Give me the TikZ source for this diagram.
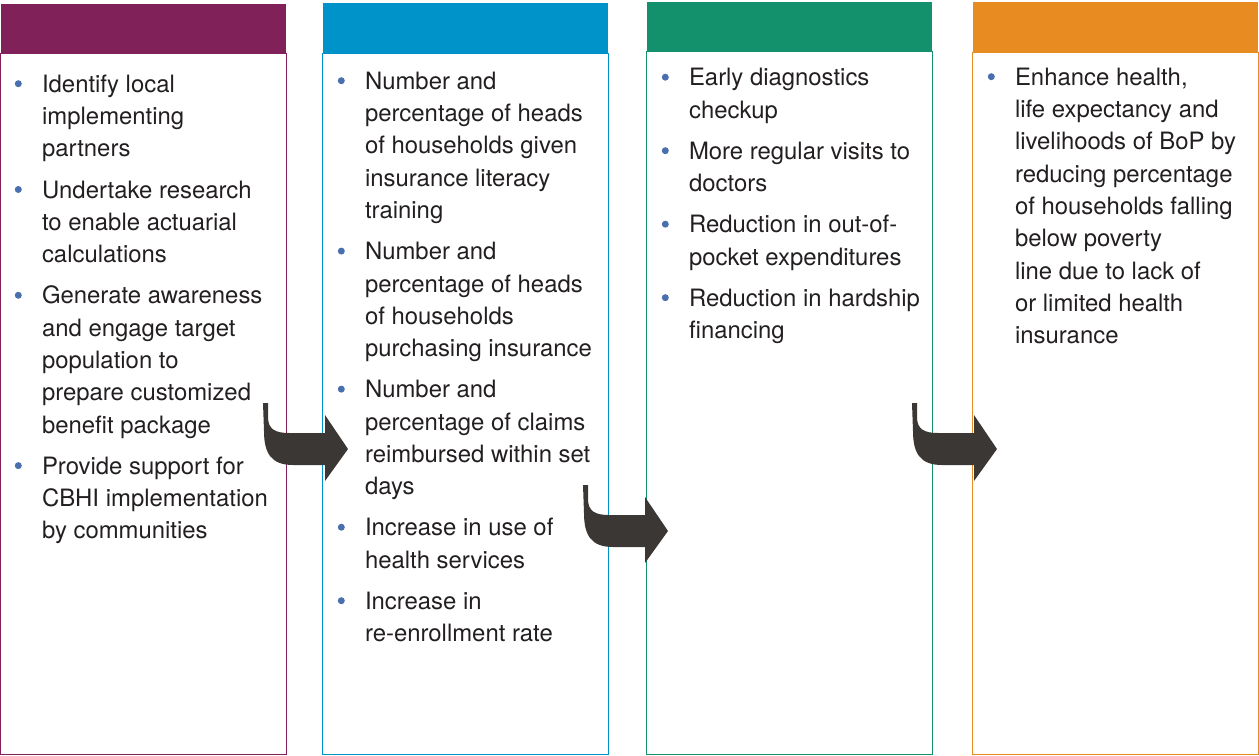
\documentclass[tikz,border=0pt]{standalone}
\usepackage{fontspec}
\setmainfont{TeX Gyre Heros}
\usetikzlibrary{positioning}
\definecolor{hdpurple}{HTML}{80215A}
\definecolor{hdblue}{HTML}{0093C9}
\definecolor{hdgreen}{HTML}{12916C}
\definecolor{hdorange}{HTML}{E88B21}
\definecolor{bulletblue}{HTML}{4A6FAF}
\definecolor{arrowgray}{HTML}{3B3735}
\definecolor{textgray}{HTML}{231F20}
\tikzset{
  hdbar/.style={draw=none, fill=#1, minimum width=5.72cm, minimum height=1cm, inner sep=0pt},
  colbox/.style={draw=#1, line width=0.6pt},
  bitem/.style={anchor=north west, inner sep=0pt, align=left, text=textgray,
    font=\fontsize{13.6}{18.38}\selectfont,
    execute at end node=\strut},
  bdot/.style={fill=bulletblue},
  bentarr/.pic={
    \fill[arrowgray] (0,0) -- (5,0) -- (5,14) .. controls (5,26) and (12,30) .. (26,30)
      -- (62,30) -- (62,12) -- (85,46) -- (62,78) -- (62,62) -- (30,62)
      .. controls (8,62) and (1,50) .. (1,28) -- cycle;
  }
}
\begin{document}
\begin{tikzpicture}[x=0.02cm,y=-0.02cm]
\useasboundingbox (0,0) rectangle (1259,755);
\coordinate (bot) at (0,754.5);

% header bars
\node[hdbar=hdpurple] (hdA) at (143.5,28.5) {};
\node[hdbar=hdblue] (hdB) at (465.5,28) {};
\node[hdbar=hdgreen] (hdC) at (789.5,26.5) {};
\node[hdbar=hdorange] (hdD) at (1115.5,27) {};

% column boxes
\draw[colbox=hdpurple] (hdA.south west) rectangle (hdA.east |- bot);
\draw[colbox=hdblue] (hdB.south west) rectangle (hdB.east |- bot);
\draw[colbox=hdgreen] (hdC.south west) rectangle (hdC.east |- bot);
\draw[colbox=hdorange] (hdD.south west) rectangle (hdD.east |- bot);

% column 1
\node[bitem] (a1) at (41.7,69.4) {\strut Identify local\\implementing\\partners};
\node[bitem, below=0.164cm of a1.south west, anchor=north west] (a2) {\strut Undertake research\\to enable actuarial\\calculations};
\node[bitem, below=0.164cm of a2.south west, anchor=north west] (a3) {\strut Generate awareness\\and engage target\\population to\\prepare customized\\benefit package};
\node[bitem, below=0.164cm of a3.south west, anchor=north west] (a4) {\strut Provide support for\\CBHI implementation\\by communities};

% column 2
\node[bitem] (b1) at (364.7,66.4) {\strut Number and\\percentage of heads\\of households given\\insurance literacy\\training};
\node[bitem, below=0.164cm of b1.south west, anchor=north west] (b2) {\strut Number and\\percentage of heads\\of households\\purchasing insurance};
\node[bitem, below=0.164cm of b2.south west, anchor=north west] (b3) {\strut Number and\\percentage of claims\\reimbursed within set\\days};
\node[bitem, below=0.164cm of b3.south west, anchor=north west] (b4) {\strut Increase in use of\\health services};
\node[bitem, below=0.164cm of b4.south west, anchor=north west] (b5) {\strut Increase in\\re-enrollment rate};

% column 3
\node[bitem] (c1) at (688.7,62.9) {\strut Early diagnostics\\checkup};
\node[bitem, below=0.164cm of c1.south west, anchor=north west] (c2) {\strut More regular visits to\\doctors};
\node[bitem, below=0.164cm of c2.south west, anchor=north west] (c3) {\strut Reduction in out-of-\\pocket expenditures};
\node[bitem, below=0.164cm of c3.south west, anchor=north west] (c4) {\strut Reduction in hardship\\financing};

% column 4
\node[bitem] (d1) at (1014.7,62.4) {\strut Enhance health,\\life expectancy and\\livelihoods of BoP by\\reducing percentage\\of households falling\\below poverty\\line due to lack of\\or limited health\\insurance};

% bullets
\foreach \n in {a1,a2,a3,a4,b1,b2,b3,b4,b5,c1,c2,c3,c4,d1}
  \fill[bdot] ([xshift=-0.468cm,yshift=-0.286cm]\n.north west) circle (0.07cm);

% arrows between columns
\pic at (263,403) {bentarr};
\pic at (583,485) {bentarr};
\pic at (912,403) {bentarr};
\end{tikzpicture}
\end{document}
